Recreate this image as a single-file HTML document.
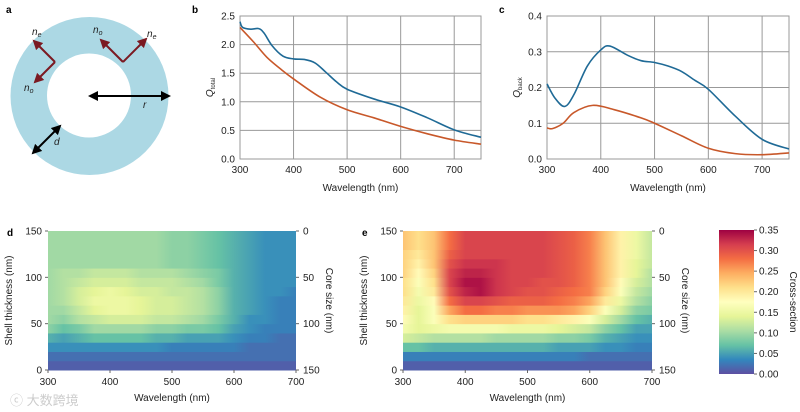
<!DOCTYPE html>
<html><head><meta charset="utf-8">
<style>
html,body{margin:0;padding:0;background:#fff;}
svg{display:block;font-family:"Liberation Sans",Arial,sans-serif;}
</style></head>
<body>
<svg id="fig" width="800" height="412" viewBox="0 0 800 412">
<defs>
<marker id="ak" viewBox="0 0 10 10" refX="8" refY="5" markerWidth="5" markerHeight="5" orient="auto-start-reverse"><path d="M0,0 L10,5 L0,10 z" fill="#000"/></marker>
<marker id="ar" viewBox="0 0 10 10" refX="8" refY="5" markerWidth="5" markerHeight="5" orient="auto"><path d="M0,0 L10,5 L0,10 z" fill="#7b1a22"/></marker>
<linearGradient id="cbar" x1="0" y1="1" x2="0" y2="0"></linearGradient>
</defs>

<g>
<text x="6" y="13" font-size="10" font-weight="bold">a</text>
<circle cx="89.5" cy="96" r="79" fill="#acd8e4"/>
<circle cx="89" cy="95.5" r="42" fill="#fff"/>
<g stroke="#7b1a22" stroke-width="2" fill="none">
<line x1="55" y1="62" x2="34" y2="41" marker-end="url(#ar)"/>
<line x1="55" y1="62" x2="35" y2="82" marker-end="url(#ar)"/>
<line x1="123" y1="62" x2="101" y2="40" marker-end="url(#ar)"/>
<line x1="123" y1="62" x2="146" y2="39" marker-end="url(#ar)"/>
</g>
<line x1="90" y1="96" x2="169" y2="96" stroke="#000" stroke-width="2" marker-start="url(#ak)" marker-end="url(#ak)"/>
<line x1="33" y1="153" x2="60" y2="126" stroke="#000" stroke-width="2" marker-start="url(#ak)" marker-end="url(#ak)"/>
<g font-size="10" font-style="italic" fill="#222">
<text x="32" y="35">n<tspan font-size="7" dy="2">e</tspan></text>
<text x="24" y="91">n<tspan font-size="7" dy="2">o</tspan></text>
<text x="93" y="33">n<tspan font-size="7" dy="2">o</tspan></text>
<text x="147" y="37">n<tspan font-size="7" dy="2">e</tspan></text>
<text x="143" y="108">r</text>
<text x="54" y="145">d</text>
</g>
</g>
<g id="lines"></g>
<g id="heat"></g>
<g><text x="10" y="405" font-size="13" fill="#ccc" font-family="Liberation Sans, Noto Sans CJK SC, sans-serif">ⓒ 大数跨境</text></g>
</svg>
<script>
const NS="http://www.w3.org/2000/svg";
function mk(tag,attrs,parent){const e=document.createElementNS(NS,tag);for(const k in attrs)e.setAttribute(k,attrs[k]);parent.appendChild(e);return e;}
const bBlueX=[300,305,320,335,345,360,380,400,420,440,460,480,500,550,600,650,700,750];
const bBlueY=[2.4,2.3,2.27,2.28,2.2,1.98,1.8,1.75,1.74,1.68,1.52,1.35,1.22,1.05,0.91,0.72,0.51,0.38];
const bOrX=[300,325,350,375,400,450,500,550,600,650,700,750];
const bOrY=[2.3,2.05,1.78,1.58,1.4,1.08,0.86,0.72,0.57,0.44,0.33,0.26];
const bYTicks=[0,0.5,1,1.5,2,2.5];
const xTicksLine=[300,400,500,600,700];
const cBlueX=[300,315,333,350,375,400,417,450,475,500,525,550,575,600,650,700,750];
const cBlueY=[0.21,0.17,0.147,0.18,0.26,0.305,0.316,0.29,0.275,0.27,0.26,0.245,0.22,0.195,0.12,0.055,0.028];
const cOrX=[300,310,330,350,385,425,475,500,550,600,650,700,750];
const cOrY=[0.087,0.085,0.1,0.13,0.15,0.138,0.115,0.1,0.065,0.03,0.015,0.012,0.017];
const cYTicks=[0,0.1,0.2,0.3,0.4];
const hmWave=[300,325,350,375,400,425,450,475,500,525,550,575,600,625,650,675,700];
const hmShell=[0,10,20,30,40,50,60,70,80,90,100,110,120,130,140];
const heatD=[
[.01,.01,.01,.01,.01,.01,.01,.01,.01,.01,.01,.01,.01,.01,.01,.01,.01],
[.02,.02,.02,.02,.02,.02,.02,.02,.02,.02,.02,.02,.02,.02,.02,.02,.02],
[.04,.04,.04,.04,.04,.04,.04,.04,.03,.03,.03,.03,.03,.02,.02,.02,.02],
[.06,.05,.06,.07,.07,.07,.07,.06,.06,.05,.05,.05,.04,.03,.03,.02,.02],
[.09,.07,.08,.10,.10,.10,.10,.09,.09,.08,.08,.07,.05,.04,.03,.03,.03],
[.10,.09,.11,.12,.13,.13,.13,.12,.12,.11,.10,.08,.06,.04,.04,.03,.03],
[.10,.10,.12,.14,.15,.15,.14,.13,.13,.12,.11,.09,.06,.05,.04,.03,.03],
[.10,.11,.13,.15,.15,.15,.14,.13,.13,.12,.11,.09,.06,.05,.04,.03,.03],
[.10,.11,.13,.14,.15,.14,.13,.13,.12,.12,.11,.09,.06,.05,.04,.04,.03],
[.10,.11,.12,.13,.13,.13,.12,.12,.12,.11,.10,.08,.06,.05,.04,.04,.04],
[.10,.11,.11,.12,.12,.12,.11,.11,.11,.10,.09,.08,.06,.05,.04,.04,.04],
[.10,.10,.10,.10,.10,.10,.10,.10,.09,.09,.08,.07,.06,.05,.04,.04,.04],
[.10,.10,.10,.10,.10,.10,.10,.10,.09,.09,.08,.07,.06,.05,.04,.04,.04],
[.10,.10,.10,.10,.10,.10,.10,.10,.09,.09,.08,.07,.06,.05,.04,.04,.04],
[.10,.10,.10,.10,.10,.10,.10,.10,.09,.09,.08,.07,.06,.05,.04,.04,.04]];
const heatE=[
[.01,.01,.01,.01,.01,.01,.01,.01,.01,.01,.01,.01,.01,.01,.01,.01,.01],
[.03,.03,.03,.03,.03,.03,.03,.03,.03,.03,.03,.03,.02,.02,.02,.02,.02],
[.07,.07,.06,.06,.06,.06,.06,.06,.06,.06,.05,.05,.05,.04,.04,.03,.03],
[.13,.12,.11,.11,.11,.11,.10,.10,.10,.10,.09,.09,.08,.06,.05,.04,.04],
[.16,.14,.15,.16,.16,.16,.16,.15,.15,.15,.14,.13,.12,.09,.07,.05,.05],
[.18,.14,.17,.21,.22,.22,.22,.22,.21,.21,.20,.19,.17,.13,.10,.07,.06],
[.19,.14,.17,.25,.28,.28,.27,.27,.26,.26,.26,.25,.22,.17,.13,.09,.08],
[.20,.15,.18,.28,.31,.31,.30,.29,.29,.29,.28,.27,.25,.20,.15,.11,.09],
[.21,.16,.20,.30,.33,.34,.32,.31,.30,.30,.29,.28,.27,.22,.17,.12,.10],
[.21,.17,.21,.31,.34,.34,.32,.31,.31,.30,.30,.29,.27,.23,.18,.13,.11],
[.22,.18,.22,.31,.33,.33,.32,.31,.31,.31,.30,.29,.27,.23,.19,.14,.11],
[.22,.19,.23,.30,.32,.32,.32,.31,.31,.31,.30,.29,.27,.23,.19,.14,.12],
[.22,.20,.23,.29,.31,.31,.31,.31,.31,.31,.30,.29,.27,.23,.19,.15,.12],
[.23,.21,.23,.28,.31,.31,.31,.31,.31,.31,.30,.29,.27,.23,.19,.15,.12],
[.23,.21,.23,.28,.31,.31,.31,.31,.31,.31,.30,.29,.27,.23,.19,.15,.12]];
const hmYTicks=[0,50,100,150];
const coreTicks=[0,50,100,150];
const hmXTicks=[300,400,500,600,700];
const cbTicks=[0,0.05,0.10,0.15,0.20,0.25,0.30,0.35];

const cmap=["#5e4fa2","#3288bd","#66c2a5","#abdda4","#e6f598","#ffffbf","#fee08b","#fdae61","#f46d43","#d53e4f","#9e0142"];
function hex(h){return [1,3,5].map(i=>parseInt(h.substr(i,2),16));}
function color(v){let t=Math.max(0,Math.min(1,v/0.35))*(cmap.length-1);let i=Math.min(Math.floor(t),cmap.length-2);let f=t-i;const a=hex(cmap[i]),b=hex(cmap[i+1]);return "rgb("+a.map((x,k)=>Math.round(x+(b[k]-x)*f)).join(",")+")";}

function path(xs,ys,sx,sy){const p=xs.map((x,i)=>[sx(x),sy(ys[i])]);let d="M"+p[0][0]+","+p[0][1];for(let i=0;i<p.length-1;i++){const p0=p[i-1]||p[i],p1=p[i],p2=p[i+1],p3=p[i+2]||p2;const c1=[p1[0]+(p2[0]-p0[0])/6,p1[1]+(p2[1]-p0[1])/6],c2=[p2[0]-(p3[0]-p1[0])/6,p2[1]-(p3[1]-p1[1])/6];d+=" C"+c1+" "+c2+" "+p2;}return d;}

const L=document.getElementById("lines");
function linePanel(o){
 const g=mk("g",{},L);
 
 
 const sx=x=>o.x0+(x-300)/450*(o.x1-o.x0), sy=v=>o.y1-(v/o.ymax)*(o.y1-o.y0);
 const lb=mk("text",{x:o.x0-48,y:13,"font-size":10,"font-weight":"bold"},g);lb.textContent=o.letter;
 
 
 o.yt.forEach(v=>{const l=mk("line",{x1:o.x0,x2:o.x1,y1:sy(v),y2:sy(v),stroke:"#999","stroke-width":1},g);
  
  
  const t=mk("text",{x:o.x0-5,y:sy(v)+3.5,"font-size":10,"text-anchor":"end",fill:"#222"},g);t.textContent=v.toFixed(1);
  
  });
 xTicksLine.forEach(v=>{const l=mk("line",{x1:sx(v),x2:sx(v),y1:o.y0,y2:o.y1,stroke:"#999","stroke-width":1},g);
  
  
  const t=mk("text",{x:sx(v),y:o.y1+14,"font-size":10,"text-anchor":"middle",fill:"#222"},g);t.textContent=v;
  
  });
 const fr=mk("rect",{x:o.x0,y:o.y0,width:o.x1-o.x0,height:o.y1-o.y0,fill:"none",stroke:"#999"},g);
 
 
 const po=mk("path",{d:path(o.ox,o.oy,sx,sy),fill:"none",stroke:"#c8582a","stroke-width":1.6},g);
 
 
 const pb=mk("path",{d:path(o.bx,o.by,sx,sy),fill:"none",stroke:"#1f6a96","stroke-width":1.6},g);
 
 
 const xl=mk("text",{x:(o.x0+o.x1)/2,y:o.y1+32,"font-size":10,"text-anchor":"middle",fill:"#222"},g);xl.textContent="Wavelength (nm)";
 
 
 const yl=mk("text",{x:0,y:0,"font-size":10,"text-anchor":"middle",fill:"#222",transform:"translate("+(o.x0-27)+","+((o.y0+o.y1)/2)+") rotate(-90)","font-style":"italic"},g);
 yl.innerHTML="Q<tspan font-size='6' dy='2' font-style='normal'>"+o.sub+"</tspan>";
 
 
}
linePanel({name:"panel-b-qtotal-chart",letter:"b",sub:"total",x0:240,x1:481,y0:16,y1:159,ymax:2.5,yt:bYTicks,bx:bBlueX,by:bBlueY,ox:bOrX,oy:bOrY});
linePanel({name:"panel-c-qback-chart",letter:"c",sub:"back",x0:547,x1:789,y0:16,y1:159,ymax:0.4,yt:cYTicks,bx:cBlueX,by:cBlueY,ox:cOrX,oy:cOrY});

const H=document.getElementById("heat");
const defs=document.querySelector("defs");
function heatPanel(o){
 const g=mk("g",{},H);
 
 
 const sx=x=>o.x0+(x-300)/400*(o.x1-o.x0), sy=v=>o.y1-(v/150)*(o.y1-o.y0);
 o.data.forEach((row,r)=>{
  const gid=o.letter+"g"+r;const gr=mk("linearGradient",{id:gid,x1:0,x2:1,y1:0,y2:0},defs);
  row.forEach((v,i)=>mk("stop",{offset:(hmWave[i]-300)/400,"stop-color":color(v)},gr));
  const top=Math.min(hmShell[r]+10,150);
  const c=mk("rect",{x:o.x0,y:sy(top),width:o.x1-o.x0,height:sy(hmShell[r])-sy(top)+0.5,fill:"url(#"+gid+")"},g);
  
  
 });
 const lb=mk("text",{x:o.x0-41,y:236,"font-size":10,"font-weight":"bold"},g);lb.textContent=o.letter;
 
 
 hmYTicks.forEach(v=>{mk("line",{x1:o.x0-3,x2:o.x0,y1:sy(v),y2:sy(v),stroke:"#666"},g);
  const t=mk("text",{x:o.x0-6,y:sy(v)+3.5,"font-size":10,"text-anchor":"end",fill:"#222"},g);t.textContent=v;
  
  });
 coreTicks.forEach(v=>{const yy=o.y0+(v/150)*(o.y1-o.y0);mk("line",{x1:o.x1,x2:o.x1+3,y1:yy,y2:yy,stroke:"#666"},g);
  const t=mk("text",{x:o.x1+7,y:yy+3.5,"font-size":10,fill:"#222"},g);t.textContent=v;
  
  });
 hmXTicks.forEach(v=>{mk("line",{x1:sx(v),x2:sx(v),y1:o.y1,y2:o.y1+3,stroke:"#666"},g);
  const t=mk("text",{x:sx(v),y:o.y1+15,"font-size":10,"text-anchor":"middle",fill:"#222"},g);t.textContent=v;
  
  });
 const xl=mk("text",{x:(o.x0+o.x1)/2,y:o.y1+31,"font-size":10,"text-anchor":"middle",fill:"#222"},g);xl.textContent="Wavelength (nm)";
 
 
 const yl=mk("text",{x:0,y:0,"font-size":10,"text-anchor":"middle",fill:"#222",transform:"translate("+(o.x0-36)+","+((o.y0+o.y1)/2)+") rotate(-90)"},g);yl.textContent="Shell thickness (nm)";
 
 
 const yr=mk("text",{x:0,y:0,"font-size":10,"text-anchor":"middle",fill:"#222",transform:"translate("+(o.x1+30)+","+((o.y0+o.y1)/2)+") rotate(90)"},g);yr.textContent="Core size (nm)";
 
 
}
heatPanel({name:"panel-d-heatmap",letter:"d",x0:48,x1:296,y0:231,y1:370,data:heatD});
heatPanel({name:"panel-e-heatmap",letter:"e",x0:403,x1:652,y0:231,y1:370,data:heatE});

const cg=document.getElementById("cbar");
cmap.forEach((c,i)=>mk("stop",{offset:i/(cmap.length-1),"stop-color":c},cg));
const cb=mk("g",{},H);


const cx0=719,cx1=754,cy0=230,cy1=374;
mk("rect",{x:cx0,y:cy0,width:cx1-cx0,height:cy1-cy0,fill:"url(#cbar)"},cb);
cbTicks.forEach(v=>{const yy=cy1-(v/0.35)*(cy1-cy0);mk("line",{x1:cx1,x2:cx1+3,y1:yy,y2:yy,stroke:"#666"},cb);
 const t=mk("text",{x:cx1+5,y:yy+3.5,"font-size":10,fill:"#222"},cb);t.textContent=v.toFixed(2);
 
 });
const ct=mk("text",{x:0,y:0,"font-size":10,"text-anchor":"middle",fill:"#222",transform:"translate(790,"+((cy0+cy1)/2)+") rotate(90)"},cb);ct.textContent="Cross-section";


</script>
</body></html>
